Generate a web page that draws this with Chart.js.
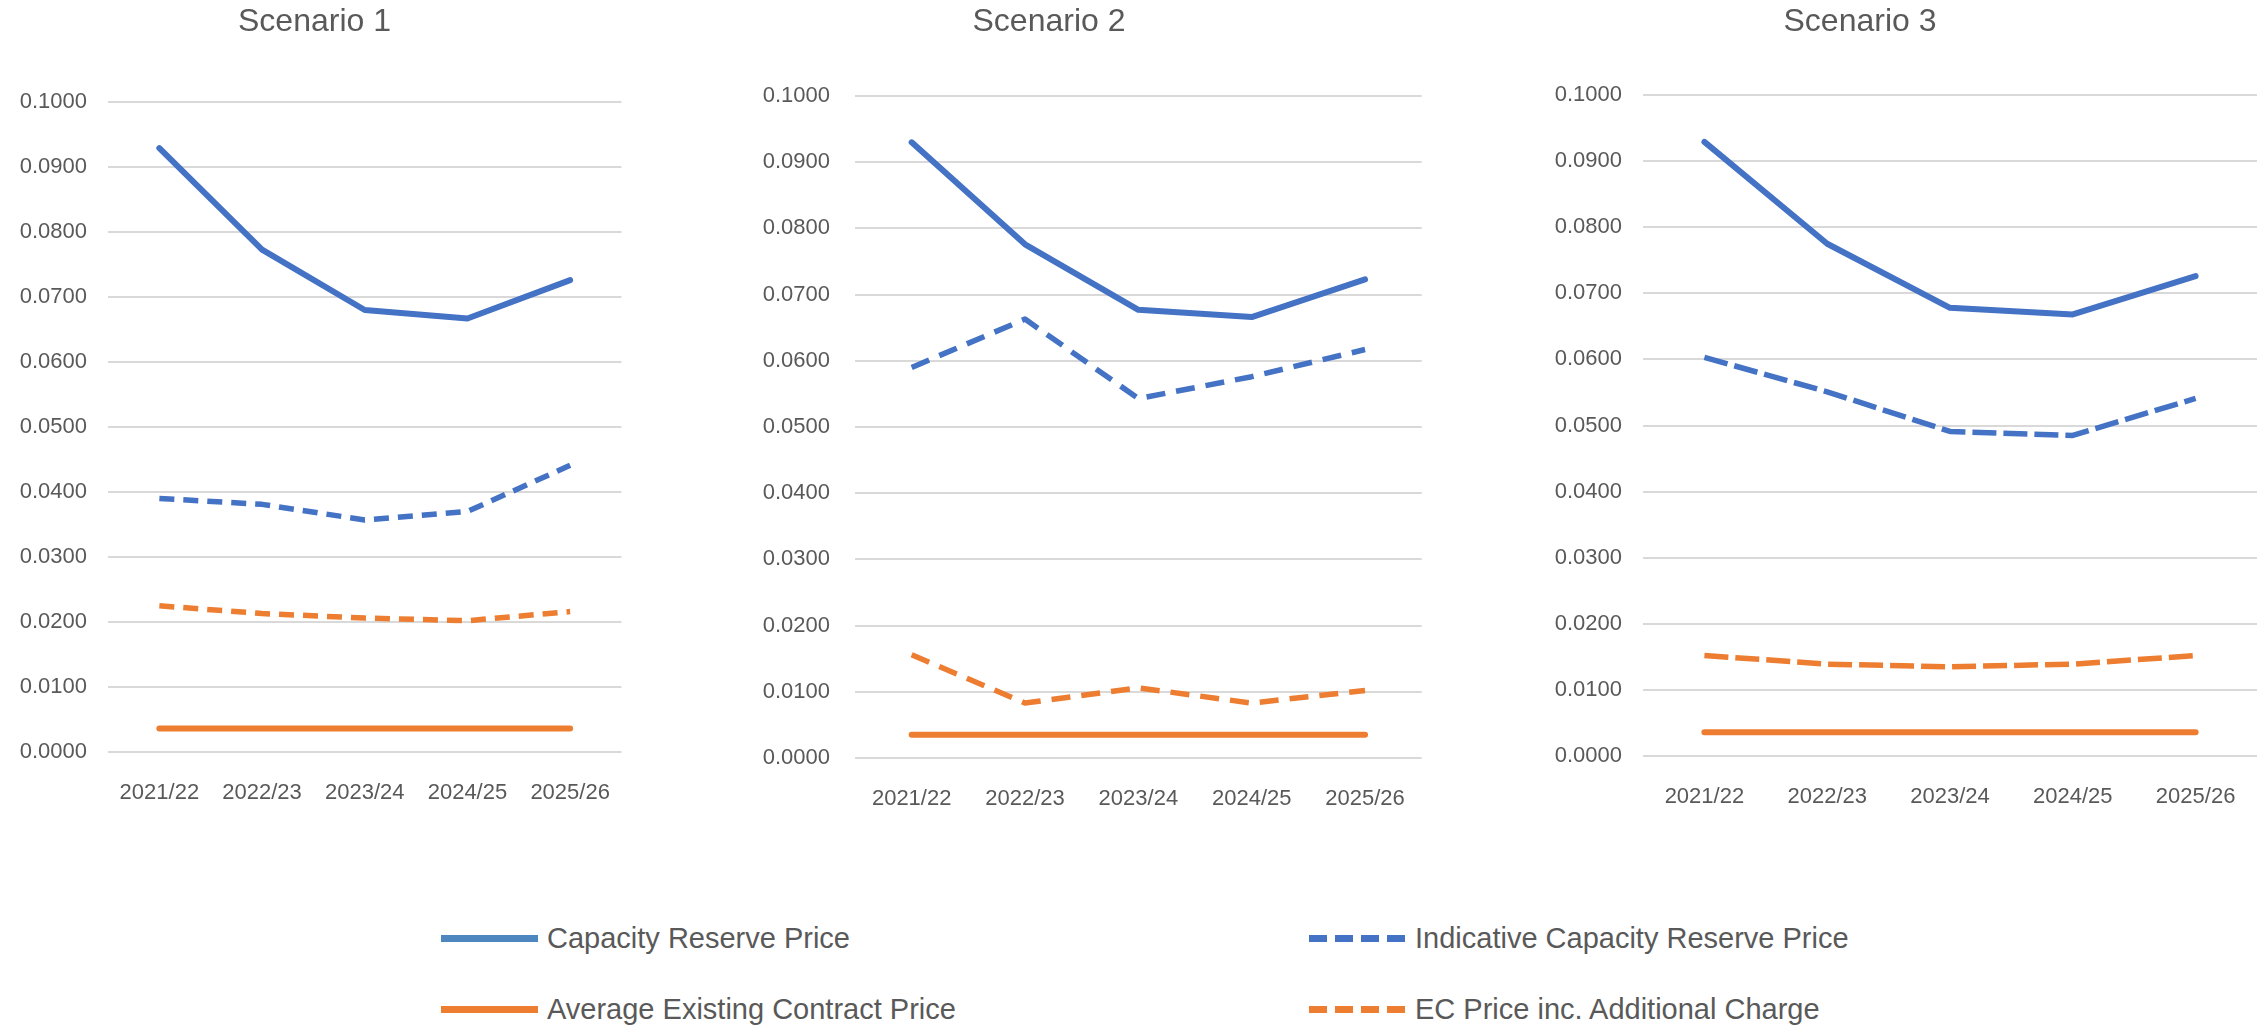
<!DOCTYPE html>
<html>
<head>
<meta charset="utf-8">
<script src="https://cdn.jsdelivr.net/npm/chart.js@4.4.1/dist/chart.umd.min.js"></script>
<style>
  html, body { margin: 0; padding: 0; background: #fff; }
  body { width: 2267px; height: 1031px; position: relative; overflow: hidden; font-family: 'Liberation Sans', Arial, sans-serif; }
  canvas { position: absolute; top: 0; }
  .leg { position: absolute; height: 40px; display: flex; align-items: center; color: #595959; font-size: 29px; white-space: nowrap; }
  .sw { width: 97px; height: 7px; margin-right: 9px; }
</style>
</head>
<body>
<canvas id="chart1" width="630" height="800" style="left:0px"></canvas>
<canvas id="chart2" width="750" height="806" style="left:675px"></canvas>
<canvas id="chart3" width="804" height="804" style="left:1463px"></canvas>
<div id="legend"></div>
<script>
const years = ['2021/22', '2022/23', '2023/24', '2024/25', '2025/26'];
const seriesNames = ['Capacity Reserve Price', 'Indicative Capacity Reserve Price', 'Average Existing Contract Price', 'EC Price inc. Additional Charge'];

// Scenario 1
const s1Capacity   = [0.0929, 0.0773, 0.0680, 0.0667, 0.0726];
const s1Indicative = [0.0390, 0.0381, 0.0357, 0.0370, 0.0441];
const s1Existing   = [0.0036, 0.0036, 0.0036, 0.0036, 0.0036];
const s1EcPrice    = [0.0225, 0.0213, 0.0206, 0.0202, 0.0216];

// Scenario 2
const s2Capacity   = [0.0930, 0.0776, 0.0677, 0.0666, 0.0723];
const s2Indicative = [0.0590, 0.0663, 0.0543, 0.0576, 0.0617];
const s2Existing   = [0.0035, 0.0035, 0.0035, 0.0035, 0.0035];
const s2EcPrice    = [0.0156, 0.0083, 0.0106, 0.0083, 0.0102];

// Scenario 3
const s3Capacity   = [0.0929, 0.0775, 0.0678, 0.0668, 0.0726];
const s3Indicative = [0.0603, 0.0551, 0.0491, 0.0485, 0.0541];
const s3Existing   = [0.0036, 0.0036, 0.0036, 0.0036, 0.0036];
const s3EcPrice    = [0.0152, 0.0139, 0.0135, 0.0139, 0.0152];

const BLUE = '#4472C4';
const ORANGE = '#ED7D31';
const TEXT = '#595959';

Chart.defaults.font.family = "'Liberation Sans', Arial, sans-serif";
Chart.defaults.color = TEXT;

function makeChart(id, title, series, cfg) {
    const line = (label, data, color, dashed) => ({
        label: label,
        data: data,
        borderColor: color,
        backgroundColor: color,
        borderWidth: dashed ? 5.5 : 6,
        borderDash: dashed ? cfg.dash : [],
        borderCapStyle: dashed ? 'butt' : 'round',
        borderJoinStyle: 'round',
        pointRadius: 0,
        tension: 0,
        fill: false
    });

    new Chart(document.getElementById(id).getContext('2d'), {
        type: 'line',
        data: {
            labels: years,
            datasets: [
                line(seriesNames[3], series[3], ORANGE, true),
                line(seriesNames[2], series[2], ORANGE, false),
                line(seriesNames[1], series[1], BLUE, true),
                line(seriesNames[0], series[0], BLUE, false)
            ]
        },
        options: {
            responsive: false,
            animation: false,
            devicePixelRatio: 1,
            layout: { padding: { left: 0, right: cfg.padRight, top: 0, bottom: 0 } },
            plugins: {
                legend: { display: false },
                tooltip: { enabled: false },
                title: {
                    display: true,
                    text: title,
                    color: TEXT,
                    font: { size: 32, weight: 'normal' },
                    padding: { top: 3, bottom: cfg.titleBottom }
                }
            },
            scales: {
                x: {
                    offset: true,
                    grid: { display: false },
                    border: { display: false },
                    ticks: { font: { size: 22 }, color: TEXT, padding: 20, maxRotation: 0, autoSkip: false },
                    afterFit: s => { s.height = 48; }
                },
                y: {
                    min: 0,
                    max: 0.1,
                    grid: { color: '#D9D9D9', lineWidth: 2, drawTicks: false },
                    border: { display: false },
                    ticks: {
                        stepSize: 0.01,
                        font: { size: 22 },
                        color: TEXT,
                        padding: cfg.tickPad,
                        callback: v => v.toFixed(4)
                    },
                    afterFit: s => { s.width = cfg.yWidth; }
                }
            }
        }
    });
}

makeChart('chart1', 'Scenario 1', [s1Capacity, s1Indicative, s1Existing, s1EcPrice],
    { yWidth: 108, tickPad: 21, titleBottom: 60.6, padRight: 1, dash: [15, 9] });
makeChart('chart2', 'Scenario 2', [s2Capacity, s2Indicative, s2Existing, s2EcPrice],
    { yWidth: 180, tickPad: 25, titleBottom: 54.6, padRight: 2, dash: [19, 11] });
makeChart('chart3', 'Scenario 3', [s3Capacity, s3Indicative, s3Existing, s3EcPrice],
    { yWidth: 180, tickPad: 21, titleBottom: 53.6, padRight: 10, dash: [24, 7] });

// Shared legend under the three charts
const legendItems = [
    { name: seriesNames[0], color: '#4E86C0', dashed: false, x: 441, y: 938 },
    { name: seriesNames[1], color: BLUE, dashed: true, x: 1309, y: 938 },
    { name: seriesNames[2], color: ORANGE, dashed: false, x: 441, y: 1009 },
    { name: seriesNames[3], color: ORANGE, dashed: true, x: 1309, y: 1009 }
];
const legend = document.getElementById('legend');
legendItems.forEach(it => {
    const row = document.createElement('div');
    row.className = 'leg';
    row.style.left = it.x + 'px';
    row.style.top = (it.y - 20) + 'px';
    const sw = document.createElement('div');
    sw.className = 'sw';
    sw.style.background = it.dashed
        ? `repeating-linear-gradient(90deg, ${it.color} 0 18px, transparent 18px 26px)`
        : it.color;
    const txt = document.createElement('span');
    txt.textContent = it.name;
    row.appendChild(sw);
    row.appendChild(txt);
    legend.appendChild(row);
});
</script>
</body>
</html>
